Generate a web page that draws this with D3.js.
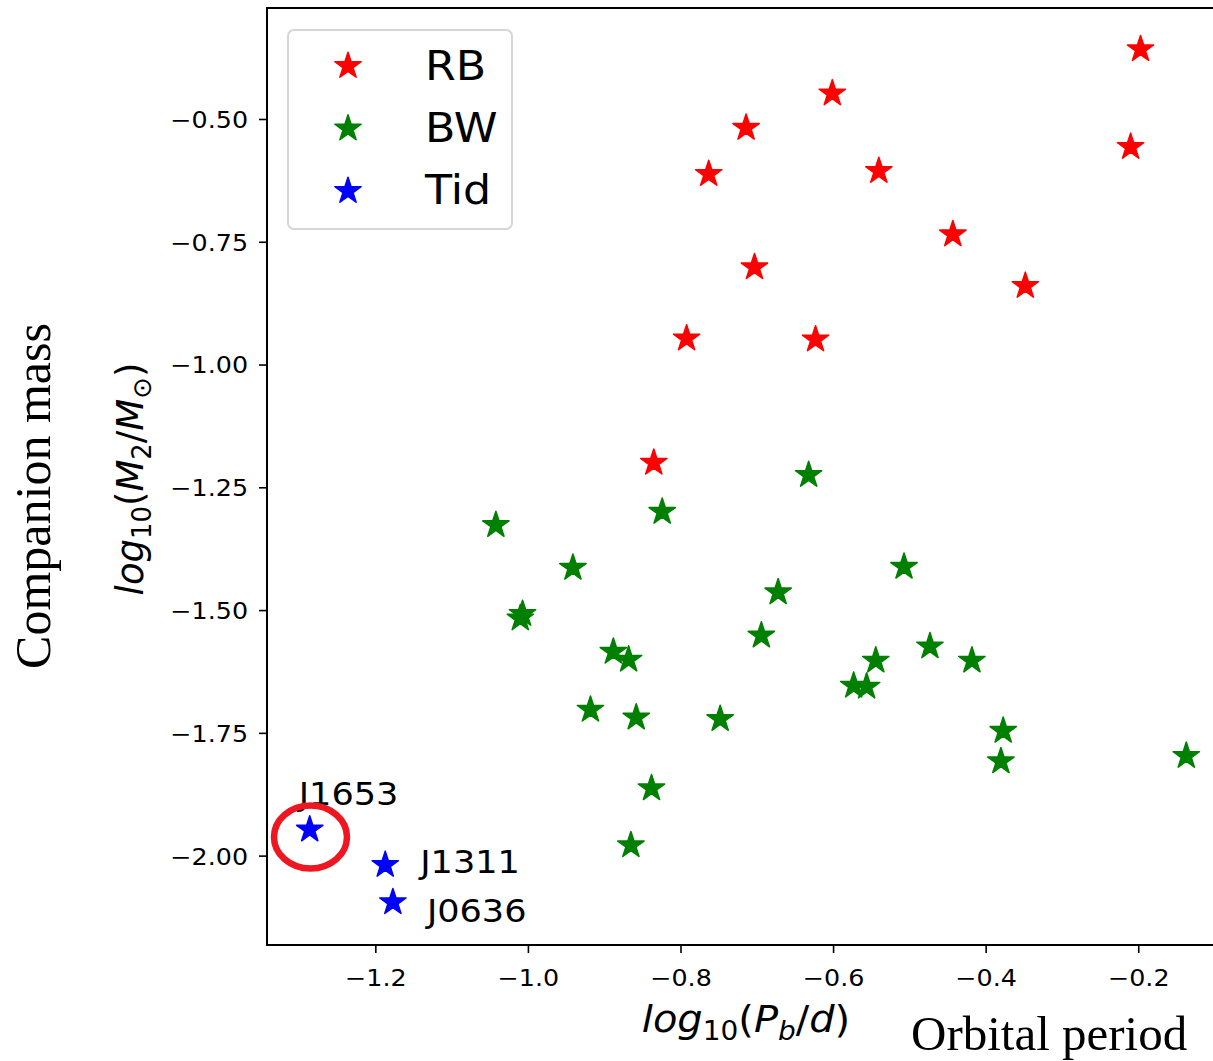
<!DOCTYPE html>
<html>
<head>
<meta charset="utf-8">
<script src="https://cdn.jsdelivr.net/npm/d3@7"></script>
<style>
  html, body { margin: 0; padding: 0; background: #fff; }
  svg { display: block; }
</style>
</head>
<body>
<script>
// ---------------- data ----------------
const rbX  = [-0.197, -0.601, -0.714, -0.763, -0.540, -0.210, -0.443, -0.703, -0.348, -0.792, -0.623, -0.835];
const rbY  = [-0.358, -0.448, -0.518, -0.612, -0.606, -0.557, -0.735, -0.802, -0.840, -0.947, -0.949, -1.200];

const bwX  = [-1.042, -0.824, -0.941, -1.007, -1.010, -0.888, -0.868, -0.918, -0.858, -0.632, -0.507, -0.672,
              -0.694, -0.544, -0.473, -0.573, -0.556, -0.748, -0.418, -0.377, -0.380, -0.137, -0.838, -0.865];
const bwY  = [-1.327, -1.300, -1.414, -1.508, -1.517, -1.585, -1.601, -1.703, -1.719, -1.225, -1.412, -1.464,
              -1.552, -1.603, -1.574, -1.654, -1.656, -1.722, -1.603, -1.746, -1.808, -1.797, -1.863, -1.979];

const tidX = [-1.286, -1.187, -1.177];
const tidY = [-1.947, -2.019, -2.095];
const tidNames = ["J1653", "J1311", "J0636"];

const seriesNames = ["RB", "BW", "Tid"];
const xTicks = [-1.2, -1.0, -0.8, -0.6, -0.4, -0.2];
const yTicks = [-0.50, -0.75, -1.00, -1.25, -1.50, -1.75, -2.00];
const xDomain = [-1.342, -0.102];
const yDomain = [-2.182, -0.274];

// circled source (data coords)
const circleX = -1.285, circleY = -1.962;

// ---------------- styles / layout ----------------
const W = 1213, H = 1061;
const colors = { RB: "#ff0000", BW: "#008000", Tid: "#0000ff" };
const labelOffsets = [[-11, -25], [35, 8], [34, 20]]; // pixel offsets of Tid labels
const SX = 1.08; // horizontal stretch of the original raster text
const sans = "'DejaVu Sans', sans-serif";
const serif = "'Liberation Serif', 'Times New Roman', serif";

const plot = { left: 267, right: 1213, top: 8, bottom: 945 };

const svg = d3.select("body").append("svg").attr("width", W).attr("height", H);

const x = d3.scaleLinear().domain(xDomain).range([plot.left, plot.right]);
const y = d3.scaleLinear().domain(yDomain).range([plot.bottom, plot.top]);

const star = d3.symbol().type(d3.symbolStar).size(215);
const fmtMinus = s => s.replace("-", "\u2212");

// ---------------- points ----------------
function drawSeries(xs, ys, color) {
  svg.append("g").selectAll("path").data(xs.map((v, i) => [v, ys[i]])).join("path")
    .attr("d", star)
    .attr("transform", d => `translate(${x(d[0])},${y(d[1])})`)
    .attr("fill", color).attr("stroke", color).attr("stroke-width", 1.5).attr("stroke-linejoin", "round");
}
drawSeries(rbX, rbY, colors.RB);
drawSeries(bwX, bwY, colors.BW);
drawSeries(tidX, tidY, colors.Tid);

// Tid labels
svg.append("g").selectAll("text").data(tidNames).join("text")
  .attr("transform", (d, i) => `translate(${x(tidX[i]) + labelOffsets[i][0]},${y(tidY[i]) + labelOffsets[i][1]}) scale(${SX},1)`)
  .attr("font-family", sans).attr("font-size", 32.5).attr("fill", "#000")
  .text(d => d);

// red ellipse
svg.append("ellipse")
  .attr("cx", x(circleX)).attr("cy", y(circleY))
  .attr("rx", 36.5).attr("ry", 31.5)
  .attr("fill", "none").attr("stroke", "#ee1620").attr("stroke-width", 6.5);

// ---------------- axes ----------------
const xAxis = svg.append("g").attr("transform", `translate(0,${plot.bottom})`)
  .call(d3.axisBottom(x).tickValues(xTicks).tickSize(8).tickPadding(16)
    .tickFormat(d => fmtMinus(d3.format(".1f")(d))));
const yAxis = svg.append("g").attr("transform", `translate(${plot.left},0)`)
  .call(d3.axisLeft(y).tickValues(yTicks).tickSize(8).tickPadding(11)
    .tickFormat(d => fmtMinus(d3.format(".2f")(d))));

[xAxis, yAxis].forEach(a => {
  a.select(".domain").remove();
  a.selectAll(".tick line").attr("stroke", "#000").attr("stroke-width", 1.6);
  a.selectAll(".tick text").attr("font-family", sans).attr("font-size", 23.5).attr("fill", "#000");
});
xAxis.selectAll(".tick text").attr("transform", `scale(${SX},1)`);
yAxis.selectAll(".tick text").attr("x", -19 / SX).attr("dy", "0.36em").attr("transform", `scale(${SX},1)`);

// spines
svg.append("rect")
  .attr("x", plot.left).attr("y", plot.top)
  .attr("width", plot.right - plot.left + 20).attr("height", plot.bottom - plot.top)
  .attr("fill", "none").attr("stroke", "#000").attr("stroke-width", 2);

// ---------------- legend ----------------
const lg = svg.append("g");
lg.append("rect").attr("x", 288).attr("y", 30).attr("width", 224).attr("height", 199).attr("rx", 6)
  .attr("fill", "#fff").attr("fill-opacity", 0.8).attr("stroke", "#d6d6d6").attr("stroke-width", 2);
seriesNames.forEach((name, i) => {
  lg.append("path").attr("d", star).attr("transform", `translate(348,${66 + i * 62.5})`)
    .attr("fill", colors[name]).attr("stroke", colors[name]).attr("stroke-width", 1.5).attr("stroke-linejoin", "round");
  lg.append("text").attr("transform", `translate(425,${80 + i * 62}) scale(${SX},1)`)
    .attr("font-family", sans).attr("font-size", 41).attr("fill", "#000").text(name);
});

// ---------------- axis labels ----------------
function mathLabel(sel, parts, size) {
  parts.forEach(p => {
    const t = sel.append("tspan").text(p.t);
    t.attr("font-style", p.it ? "italic" : "normal");
    if (p.sub) t.attr("font-size", size * 0.7).attr("dy", size * 0.22);
    if (p.back) t.attr("dy", -size * 0.22);
  });
}
const xl = svg.append("text")
  .attr("transform", `translate(746,1032) scale(${SX},1)`)
  .attr("text-anchor", "middle").attr("font-family", sans).attr("font-size", 37).attr("fill", "#000");
mathLabel(xl, [
  { t: "log", it: true }, { t: "10", sub: true }, { t: "(", back: true }, { t: "P", it: true },
  { t: "b", it: true, sub: true }, { t: "/", back: true }, { t: "d", it: true }, { t: ")" }
], 37);

const yl = svg.append("text")
  .attr("transform", `translate(143,479) rotate(-90)`)
  .attr("text-anchor", "middle").attr("font-family", sans).attr("font-size", 37).attr("fill", "#000");
mathLabel(yl, [
  { t: "log", it: true }, { t: "10", sub: true }, { t: "(", back: true }, { t: "M", it: true },
  { t: "2", sub: true }, { t: "/", back: true }, { t: "M", it: true }, { t: "\u2299", sub: true }, { t: ")", back: true }
], 37);

// serif annotations
svg.append("text").attr("transform", "translate(50,496) rotate(-90)")
  .attr("text-anchor", "middle").attr("font-family", serif).attr("font-size", 50).attr("fill", "#000")
  .text("Companion mass");
svg.append("text").attr("x", 911).attr("y", 1050)
  .attr("font-family", serif).attr("font-size", 49).attr("fill", "#000")
  .text("Orbital period");
</script>
</body>
</html>
